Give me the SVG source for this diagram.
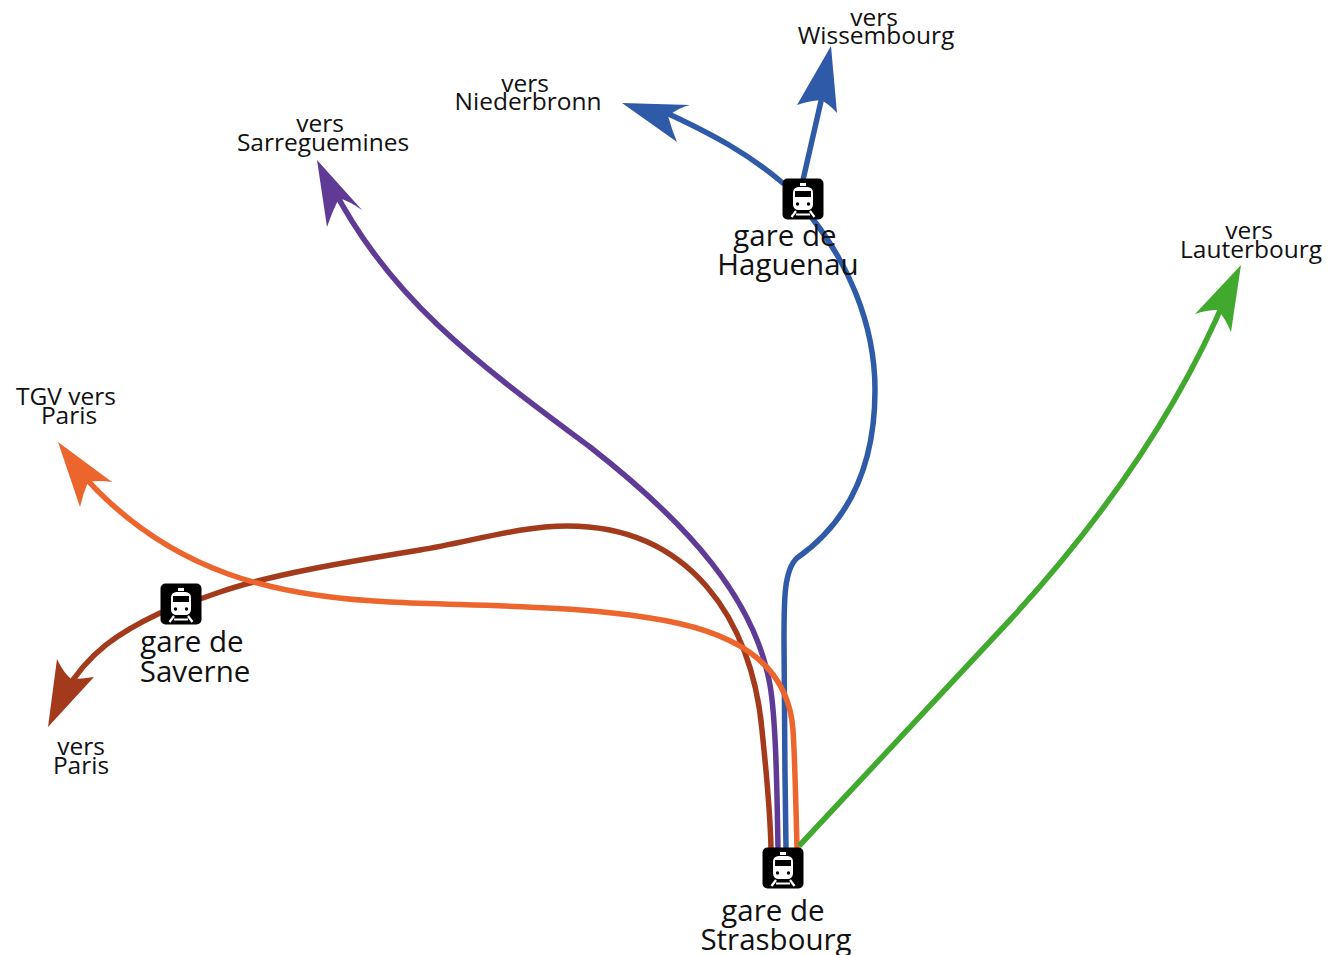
<svg xmlns="http://www.w3.org/2000/svg" xmlns:xlink="http://www.w3.org/1999/xlink" width="1335" height="955" viewBox="0 0 1335 955">
<style>
text{font-family:"Open Sans","Noto Sans","Liberation Sans",sans-serif;fill:#111;text-anchor:middle}
.s{font-size:24.500px}
.b{font-size:29.500px}
.l{fill:none;stroke-width:5.500;stroke-linecap:butt}
.blue{stroke:#2f5aa8}.bluef{fill:#2f5aa8}
.purple{stroke:#5f3b96}.purplef{fill:#5f3b96}
.brown{stroke:#a33a1c}.brownf{fill:#a33a1c}
.orange{stroke:#ec652c}.orangef{fill:#ec652c}
.green{stroke:#42a92f}.greenf{fill:#42a92f}
</style>
<defs>
<g id="icon">
<rect x="-20.500" y="-20.500" width="41" height="41" rx="5" fill="#000"/>
<rect x="-10" y="-12" width="20" height="23" rx="5.500" fill="#fff"/>
<rect x="-8" y="-8" width="16" height="6" fill="#000"/>
<rect x="-3" y="-16" width="6" height="3" fill="#fff"/>
<circle cx="-5.500" cy="5" r="1.700" fill="#000"/>
<circle cx="5.500" cy="5" r="1.700" fill="#000"/>
<path d="M-7 12L-11.500 18M7 12L11.500 18M-7 15.500H7" stroke="#fff" stroke-width="2.200" fill="none"/>
</g>
</defs>
<rect width="1335" height="955" fill="#fff"/>
<g id="connectors">
<path class="l blue" d="M786 848C785 780 784 700 784 640C784 600 784 570 797 558C830 535 875 490 875 390C875 320 845 260 812 218"/>
<path class="l blue" d="M784 184C750 155 715 135 660 110"/>
<path class="bluef" d="M622 103L690 105Q678 108 668 116Q672 130 677 142Z"/>
<path class="l blue" d="M803 180L824 88"/>
<path class="bluef" d="M831 46L837 113Q829 104 821 100Q808 101 797 105Z"/>
<path class="l purple" d="M778 848C777 790 776 720 770 685C755 600 690 525 590 447C480 365 390 300 332 186"/>
<path class="purplef" d="M317 160L362 210Q349 201 339 198Q332 212 327 227Z"/>
<path class="l brown" d="M771 848C770 805 766 770 762 730C752 620 690 526 567 526C520 526 470 542 420 550C340 563 270 575 220 592L160 613C120 632 88 652 64 694"/>
<path class="brownf" d="M48 727L57 659Q63 672 71 679Q82 679 94 677Z"/>
<path class="l orange" d="M797 848C796 810 795 760 793 730C788 660 730 630 650 618C570 605 470 606 390 602C280 597 170 575 80 472"/>
<path class="orangef" d="M58 442L112 482Q99 480 88 482Q83 494 80 507Z"/>
<path class="l green" d="M799 846C880 760 950 685 1010 620C1090 533 1175 420 1228 292"/>
<path class="greenf" d="M1241 265L1231 332Q1225 318 1218 310Q1206 310 1195 314Z"/>
</g>
<g id="strasbourg"><use xlink:href="#icon" x="783" y="868"/><text class="b" x="773" y="921">gare de</text><text class="b" x="776" y="950">Strasbourg</text></g>
<g id="haguenau"><use xlink:href="#icon" x="803" y="199"/><text class="b" x="785" y="246">gare de</text><text class="b" x="788" y="275">Haguenau</text></g>
<g id="saverne"><use xlink:href="#icon" x="181" y="604"/><text class="b" x="192" y="652">gare de</text><text class="b" x="195" y="682">Saverne</text></g>
<g id="wissembourg"><text class="s" x="874" y="26">vers</text><text class="s" x="876" y="44">Wissembourg</text></g>
<g id="niederbronn"><text class="s" x="525" y="92">vers</text><text class="s" x="528" y="110">Niederbronn</text></g>
<g id="sarreguemines"><text class="s" x="320" y="132">vers</text><text class="s" x="323" y="151">Sarreguemines</text></g>
<g id="lauterbourg"><text class="s" x="1249" y="239">vers</text><text class="s" x="1251" y="258">Lauterbourg</text></g>
<g id="tgv-paris"><text class="s" x="66" y="405">TGV vers</text><text class="s" x="69" y="424">Paris</text></g>
<g id="paris"><text class="s" x="81" y="755">vers</text><text class="s" x="81" y="774">Paris</text></g>
</svg>
